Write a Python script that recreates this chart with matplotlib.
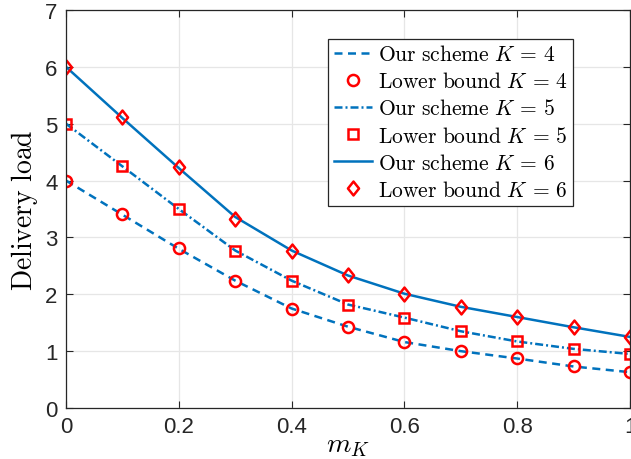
import matplotlib
matplotlib.use("Agg")
import matplotlib.pyplot as plt
from matplotlib.path import Path
import numpy as np

plt.rcParams['mathtext.fontset'] = 'cm'
plt.rcParams['font.family'] = ['Liberation Sans', 'DejaVu Sans']

m_K = [0.0, 0.1, 0.2, 0.3, 0.4, 0.5, 0.6, 0.7, 0.8, 0.9, 1.0]

scheme_K4 = [4.00, 3.40, 2.80, 2.24, 1.75, 1.43, 1.16, 1.00, 0.87, 0.73, 0.63]
bound_K4 = [4.00, 3.42, 2.82, 2.24, 1.75, 1.42, 1.16, 1.01, 0.88, 0.73, 0.63]
scheme_K5 = [5.00, 4.25, 3.50, 2.77, 2.24, 1.82, 1.59, 1.35, 1.17, 1.04, 0.95]
bound_K5 = [5.00, 4.25, 3.50, 2.77, 2.24, 1.82, 1.59, 1.35, 1.17, 1.04, 0.95]
scheme_K6 = [6.00, 5.10, 4.22, 3.36, 2.77, 2.33, 2.01, 1.78, 1.60, 1.42, 1.25]
bound_K6 = [6.00, 5.11, 4.24, 3.33, 2.77, 2.34, 2.01, 1.78, 1.60, 1.42, 1.25]

blue = '#0072BD'
red = '#FF0000'

diamond = Path([(0, 1), (0.8, 0), (0, -1), (-0.8, 0), (0, 1)],
               [Path.MOVETO, Path.LINETO, Path.LINETO, Path.LINETO, Path.CLOSEPOLY])

fig = plt.figure(figsize=(6.31, 4.60), dpi=100)
ax = fig.add_axes([66/631, 51/460, 564/631, 398/460])

mk = dict(color=red, linestyle='none', markerfacecolor='none', markeredgewidth=1.8)
ax.plot(m_K, scheme_K4, '--', color=blue, lw=1.8, dashes=(3.2, 2.2), label=r'$\mathrm{Our\ scheme}\ K\,=\,4$')
ax.plot(m_K, bound_K4, marker='o', markersize=8, label=r'$\mathrm{Lower\ bound}\ K\,=\,4$', **mk)
ax.plot(m_K, scheme_K5, '-.', color=blue, lw=1.8, dashes=(3.2, 1.2, 0.8, 1.2), label=r'$\mathrm{Our\ scheme}\ K\,=\,5$')
ax.plot(m_K, bound_K5, marker='s', markersize=7, label=r'$\mathrm{Lower\ bound}\ K\,=\,5$', **mk)
ax.plot(m_K, scheme_K6, '-', color=blue, lw=1.8, label=r'$\mathrm{Our\ scheme}\ K\,=\,6$')
ax.plot(m_K, bound_K6, marker=diamond, markersize=10, label=r'$\mathrm{Lower\ bound}\ K\,=\,6$', **mk)

ax.set_xlim(0, 1)
ax.set_ylim(0, 7)
ax.set_xticks([0, 0.2, 0.4, 0.6, 0.8, 1])
ax.set_xticklabels(['0', '0.2', '0.4', '0.6', '0.8', '1'])
ax.set_yticks(range(0, 8))
ax.tick_params(direction='in', top=True, right=True, labelsize=16, length=5, width=0.8, colors='#262626', pad=6)
ax.grid(True, color='#e6e6e6', lw=0.9)
ax.set_axisbelow(True)
for s in ax.spines.values():
    s.set_color('#262626')
    s.set_linewidth(0.9)

ax.set_ylabel(r'$\mathrm{Delivery\ load}$', fontsize=20, labelpad=4)
ax.set_xlabel(r'$m_K$', fontsize=20, labelpad=-4)

leg = ax.legend(loc='upper right', bbox_to_anchor=(0.899, 0.927), fontsize=15.5,
                fancybox=False, framealpha=1, edgecolor='#262626',
                borderpad=0.25, labelspacing=0.28, handlelength=1.8, handletextpad=0.25,
                borderaxespad=0)
leg.get_frame().set_linewidth(0.9)

fig.savefig('out.png', dpi=100)
